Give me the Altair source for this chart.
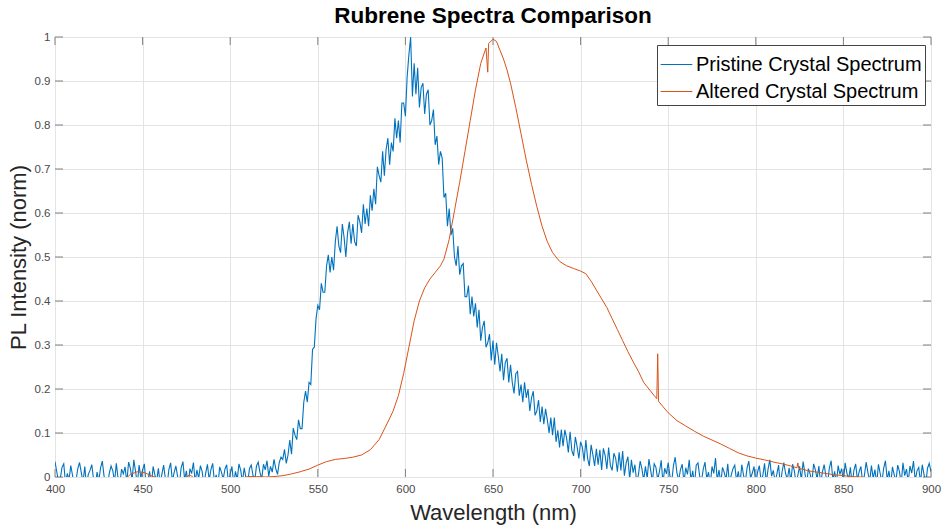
import altair as alt
import pandas as pd

# ---------------- data ----------------
series_names = ["Pristine Crystal Spectrum", "Altered Crystal Spectrum"]
series_colors = ["#0072BD", "#D95319"]

x_ticks = [400, 450, 500, 550, 600, 650, 700, 750, 800, 850, 900]
y_ticks = [0, 0.1, 0.2, 0.3, 0.4, 0.5, 0.6, 0.7, 0.8, 0.9, 1.0]

# Pristine spectrum, 1 nm steps from 400 to 900 nm
pristine_start = 400
pristine = [
    0.035, 0.012, -0.010, -0.004, 0.022, 0.030, -0.015, 0.008, -0.006, 0.026,
    0.004, -0.018, -0.008, 0.019, 0.033, 0.010, -0.012, 0.024, -0.020, 0.006,
    0.015, 0.028, -0.005, -0.022, 0.011, -0.009, 0.021, 0.036, 0.002, -0.014,
    -0.020, 0.009, 0.025, 0.014, -0.011, 0.031, -0.003, -0.017, 0.018, 0.007,
    0.023, -0.013, 0.034, 0.020, -0.007, 0.039, 0.012, -0.016, 0.027, -0.002,
    0.016, 0.030, -0.019, -0.008, 0.013, -0.021, 0.024, 0.005, -0.010, 0.020,
    -0.015, 0.006, 0.027, -0.004, -0.018, 0.017, 0.032, -0.009, 0.010, 0.025,
    0.001, -0.016, 0.021, 0.035, -0.006, 0.014, -0.022, 0.019, 0.008, 0.033,
    -0.011, 0.016, -0.003, 0.026, 0.012, -0.019, 0.009, 0.029, -0.007, 0.017,
    0.031, -0.012, 0.005, -0.020, 0.023, 0.011, -0.005, 0.018, 0.028, -0.014,
    0.007, 0.024, -0.017, 0.013, -0.006, 0.030, 0.015, -0.011, 0.021, -0.002,
    -0.013, 0.019, 0.027, 0.004, -0.009, 0.025, 0.034, 0.010, -0.004, 0.029,
    0.016, 0.037, 0.002, 0.024, 0.011, 0.040, 0.019, 0.006, 0.033, 0.045,
    0.040, 0.063, 0.031, 0.050, 0.084, 0.052, 0.111, 0.095, 0.085, 0.130,
    0.110, 0.110, 0.170, 0.195, 0.170, 0.215, 0.210, 0.290, 0.295, 0.360,
    0.390, 0.380, 0.440, 0.420, 0.420, 0.480, 0.505, 0.465, 0.500, 0.470,
    0.535, 0.570, 0.525, 0.510, 0.575, 0.545, 0.500, 0.555, 0.580, 0.530,
    0.575, 0.535, 0.525, 0.595, 0.580, 0.555, 0.620, 0.575, 0.610, 0.570,
    0.640, 0.605, 0.655, 0.620, 0.705, 0.685, 0.670, 0.740, 0.685, 0.745,
    0.770, 0.710, 0.760, 0.740, 0.815, 0.770, 0.810, 0.760, 0.850, 0.850,
    0.820, 0.910, 0.960, 1.000, 0.865, 0.940, 0.870, 0.930, 0.840, 0.885,
    0.895, 0.825, 0.870, 0.880, 0.800, 0.810, 0.835, 0.755, 0.775, 0.710,
    0.740, 0.725, 0.635, 0.645, 0.570, 0.610, 0.550, 0.565, 0.500, 0.480,
    0.525, 0.460, 0.480, 0.485, 0.410, 0.410, 0.435, 0.370, 0.410, 0.365,
    0.395, 0.340, 0.380, 0.310, 0.340, 0.355, 0.295, 0.305, 0.325, 0.265,
    0.310, 0.255, 0.305, 0.275, 0.240, 0.280, 0.220, 0.260, 0.270, 0.215,
    0.255, 0.215, 0.190, 0.235, 0.240, 0.185, 0.210, 0.170, 0.215, 0.180,
    0.200, 0.150, 0.180, 0.195, 0.140, 0.150, 0.175, 0.125, 0.160, 0.120,
    0.155, 0.130, 0.100, 0.135, 0.095, 0.135, 0.080, 0.106, 0.067, 0.108,
    0.070, 0.107, 0.089, 0.056, 0.103, 0.060, 0.048, 0.091, 0.069, 0.042,
    0.080, 0.068, 0.036, 0.084, 0.042, 0.025, 0.073, 0.051, 0.025, 0.064,
    0.028, 0.062, 0.016, 0.065, 0.049, 0.018, 0.067, 0.026, 0.015, 0.054,
    0.043, 0.012, 0.056, 0.015, 0.059, 0.003, 0.032, 0.046, -0.005, 0.039,
    0.010, 0.028, -0.012, 0.005, 0.036, 0.019, -0.008, 0.024, -0.003, 0.041,
    0.015, -0.010, 0.030, 0.022, -0.006, 0.012, 0.038, -0.014, 0.020, 0.007,
    0.033, 0.002, -0.011, 0.026, 0.045, 0.009, -0.007, 0.017, 0.029, -0.013,
    0.021, 0.006, 0.039, -0.009, 0.014, -0.017, 0.027, 0.032, 0.001, -0.010,
    0.018, 0.034, -0.004, 0.011, -0.019, 0.024, 0.008, 0.043, -0.008, 0.016,
    -0.014, 0.022, 0.010, -0.006, 0.030, -0.018, 0.005, 0.019, 0.027, -0.009,
    0.013, -0.016, 0.028, 0.004, -0.012, 0.020, 0.036, -0.003, 0.009, 0.024,
    -0.017, 0.011, 0.026, -0.008, 0.003, 0.031, -0.013, 0.018, 0.039, 0.002,
    0.015, -0.011, 0.006, 0.027, -0.019, 0.012, 0.033, 0.008, -0.006, 0.021,
    -0.010, 0.029, 0.014, -0.015, 0.004, 0.024, -0.007, 0.035, 0.010, -0.018,
    0.019, 0.007, -0.012, 0.030, 0.016, -0.004, 0.025, -0.016, 0.011, 0.028,
    0.003, -0.013, 0.021, 0.037, -0.008, 0.013, -0.017, 0.026, 0.006, 0.019,
    -0.011, 0.032, 0.009, -0.005, 0.022, -0.019, 0.015, 0.030, -0.007, 0.012,
    0.024, -0.014, 0.004, 0.034, 0.010, -0.010, 0.026, -0.003, 0.017, -0.016,
    0.029, 0.008, -0.012, 0.020, 0.037, -0.006, 0.014, -0.018, 0.023, 0.005,
    -0.009, 0.027, 0.012, -0.015, 0.032, 0.003, 0.018, -0.011, 0.025, 0.009,
    0.036, -0.008, 0.014, 0.022, -0.013, 0.028, 0.006, -0.017, 0.020, 0.031,
    0.012,
]

# Altered spectrum (wavelength, intensity)
altered_wl = [
    400, 405, 410, 415, 420, 425, 430, 435, 440, 443, 447, 451, 455, 460, 465,
    470, 474, 477, 480, 485, 490, 495, 500, 505, 510, 515, 520, 525, 530, 535,
    540, 545, 550, 555, 560, 565, 570, 575, 580, 585, 590, 593, 596, 599, 602,
    605, 608, 611, 614, 617, 620, 622, 625, 628, 631, 634, 637, 640, 643, 646,
    647, 647.5, 650, 652, 654, 656, 658, 660, 663, 666, 669, 672, 675, 678, 681,
    684, 688, 692, 696, 700, 703, 706, 709, 712, 715, 718, 721, 724, 727, 730,
    733, 736, 739, 742, 743.5, 744, 744.5, 747, 750, 755, 760, 765, 770, 775,
    780, 785, 790, 795, 800, 805, 810, 815, 820, 823.5, 824, 824.5, 830, 835,
    840, 845, 850, 855, 860, 865, 870, 880, 890, 900,
]
altered = [
    -0.010, -0.010, -0.010, -0.010, -0.010, -0.010, -0.010, -0.010, -0.005, 0.006,
    0.012, 0.010, 0.003, -0.005, -0.010, -0.010, -0.002, 0.005, -0.004, -0.010,
    -0.010, -0.010, -0.010, -0.005, 0.001, 0.001, 0.000, 0.001, 0.003, 0.007,
    0.012, 0.018, 0.027, 0.035, 0.040, 0.042, 0.045, 0.050, 0.062, 0.085,
    0.125, 0.150, 0.185, 0.235, 0.295, 0.355, 0.400, 0.430, 0.450, 0.465,
    0.480, 0.495, 0.540, 0.605, 0.670, 0.740, 0.810, 0.880, 0.940, 0.975,
    0.920, 0.985, 0.995, 0.990, 0.970, 0.950, 0.925, 0.895, 0.840, 0.780,
    0.720, 0.665, 0.615, 0.570, 0.535, 0.510, 0.490, 0.480, 0.474, 0.468,
    0.462, 0.445, 0.425, 0.405, 0.385, 0.360, 0.335, 0.310, 0.285, 0.262,
    0.240, 0.215, 0.200, 0.185, 0.178, 0.280, 0.172, 0.160, 0.146, 0.128,
    0.116, 0.104, 0.093, 0.084, 0.075, 0.065, 0.055, 0.048, 0.043, 0.039,
    0.034, 0.030, 0.025, 0.021, 0.032, 0.020, 0.014, 0.011, 0.008, 0.005,
    0.003, 0.001, 0.000, -0.002, -0.003, -0.004, -0.005, -0.005,
]

# ---------------- tables ----------------
df_p = pd.DataFrame({
    "wl": list(range(pristine_start, pristine_start + len(pristine))),
    "val": pristine,
    "series": series_names[0],
})
df_a = pd.DataFrame({"wl": altered_wl, "val": altered, "series": series_names[1]})
df_xt = pd.DataFrame({"wl": x_ticks})
df_yt = pd.DataFrame({"val": y_ticks})

FONT = "Liberation Sans"
FRAME = "#808080"

x_scale = alt.Scale(domain=[400, 900], nice=False, zero=False)
y_scale = alt.Scale(domain=[0, 1], nice=False, zero=False)
color_scale = alt.Scale(domain=series_names, range=series_colors)

x_axis = alt.Axis(
    values=x_ticks, title="Wavelength (nm)", grid=True, gridColor="#e4e4e4",
    gridWidth=1, tickSize=0, domain=False, labelFontSize=11.5,
    labelColor="#4a4a4a", labelPadding=6, labelFont=FONT, labelFlush=False,
    titleFont=FONT, titleFontSize=22, titleFontWeight="normal",
    titleColor="#262626", titlePadding=8,
)
y_axis = alt.Axis(
    values=y_ticks, title="PL Intensity (norm)", grid=True, gridColor="#e4e4e4",
    gridWidth=1, tickSize=0, domain=False, labelFontSize=11.5,
    labelColor="#4a4a4a", labelPadding=5, labelFont=FONT, format="~g",
    labelFlush=False,
    titleFont=FONT, titleFontSize=22, titleFontWeight="normal",
    titleColor="#262626", titlePadding=4,
)

x_enc = alt.X("wl:Q", scale=x_scale, axis=x_axis)
y_enc = alt.Y("val:Q", scale=y_scale, axis=y_axis)

legend = alt.Legend(
    title=None, orient="none", legendX=602, legendY=8, direction="vertical",
    symbolType="stroke", symbolSize=1000, symbolStrokeWidth=1.2,
    labelFont=FONT, labelFontSize=20, labelColor="#000000", labelOffset=3,
    fillColor="#ffffff", strokeColor="#444444", padding=3, rowPadding=0,
    labelLimit=400,
)
color_enc = alt.Color("series:N", scale=color_scale, legend=legend)

bottom_ticks = alt.Chart(df_xt).mark_rule(color=FRAME, strokeWidth=1).encode(
    x=x_enc, y=alt.value(440), y2=alt.value(432))
top_ticks = alt.Chart(df_xt).mark_rule(color=FRAME, strokeWidth=1).encode(
    x=x_enc, y=alt.value(0), y2=alt.value(8))
left_ticks = alt.Chart(df_yt).mark_rule(color=FRAME, strokeWidth=1).encode(
    y=y_enc, x=alt.value(0), x2=alt.value(8))
right_ticks = alt.Chart(df_yt).mark_rule(color=FRAME, strokeWidth=1).encode(
    y=y_enc, x=alt.value(876), x2=alt.value(868))

line_p = alt.Chart(df_p).mark_line(strokeWidth=1.1, clip=True).encode(
    x=x_enc, y=y_enc, color=color_enc)
line_a = alt.Chart(df_a).mark_line(strokeWidth=1.0, clip=True).encode(
    x=x_enc, y=y_enc, color=color_enc)

chart = alt.layer(
    bottom_ticks, top_ticks, left_ticks, right_ticks, line_p, line_a
).properties(
    width=876, height=440,
    autosize=alt.AutoSizeParams(type="none"),
    padding={"left": 55, "top": 37, "right": 12, "bottom": 52},
    title=alt.TitleParams(
        "Rubrene Spectra Comparison", font=FONT, fontSize=22.5,
        fontWeight="bold", color="#000000", anchor="middle", frame="group",
        offset=4,
    ),
).configure_view(
    stroke=FRAME, strokeWidth=1.4
).configure(background="white")

chart.save("out.html", embed_options={"renderer": "svg", "actions": False})
